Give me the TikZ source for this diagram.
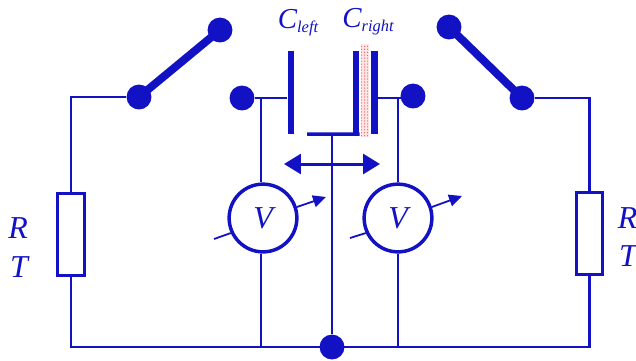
\documentclass[tikz,border=0pt]{standalone}
\usepackage{fontspec}
\setmainfont{Liberation Serif}
\usetikzlibrary{arrows.meta,patterns}
\definecolor{wireblue}{RGB}{18,18,196}
\tikzset{
  wire/.style={draw=wireblue,line width=2.4pt},
  thickwire/.style={draw=wireblue,line width=8pt},
  terminal/.style={circle,fill=wireblue,minimum size=25pt,inner sep=0pt},
  plate/.style={rectangle,fill=wireblue,minimum width=7pt,minimum height=83pt,inner sep=0pt},
  resistor/.style={rectangle,draw=wireblue,line width=3pt,fill=white,minimum width=27pt,minimum height=83pt,inner sep=0pt},
  meter/.style={circle,draw=wireblue,line width=3.5pt,fill=white,minimum size=68pt,inner sep=0pt},
  letter/.style={text=wireblue,font=\fontsize{32}{32}\selectfont\itshape,inner sep=0pt},
  caplabel/.style={text=wireblue,font=\fontsize{29}{29}\selectfont\itshape,inner sep=0pt}
}
\newcommand{\subtext}[1]{\raisebox{-4pt}{\fontsize{16.5}{16.5}\selectfont #1}}
\begin{document}
\begin{tikzpicture}[x=1bp,y=-1bp]
  \useasboundingbox (0,0) rectangle (636,360);

  %% terminals
  \node at (139,97) [terminal] (swLlow) {};
  \node at (220,30) [terminal] (swLtop) {};
  \node at (522,98) [terminal] (swRlow) {};
  \node at (449,27) [terminal] (swRtop) {};
  \node at (242,98) [terminal] (capLdot) {};
  \node at (413,96) [terminal] (capRdot) {};
  \node at (332,347) [terminal] (gnd) {};

  %% resistors
  \node at (71,234.5) [resistor] (resL) {};
  \node at (589.5,233.5) [resistor] (resR) {};

  %% dielectric
  \node at (365,90.5) [rectangle,minimum width=8pt,minimum height=93pt,inner sep=0pt,
    preaction={fill=red!10},pattern=dots,pattern color=red] (film) {};

  %% plates
  \node at (291,92.5) [plate] (plateL) {};
  \node at (356,92.5) [plate] (plateM) {};
  \node at (374.5,92.5) [plate] (plateR) {};

  %% meters
  \node at (263,218) [meter] (meterL) {};
  \node at (398,218) [meter] (meterR) {};
  \node at (meterL) [letter] {V};
  \node at (meterR) [letter] {V};

  %% free ends
  \coordinate (armEnd) at (307,134);
  \coordinate (armMid) at (332,134);
  \coordinate (slideL) at (284,164);
  \coordinate (slideR) at (380,164);
  \coordinate (tailL) at (214,239);
  \coordinate (tailR) at (350,238);
  \coordinate (tipL) at (326,197);
  \coordinate (tipR) at (462,196);
  \coordinate (tapL) at (261,98);
  \coordinate (tapR) at (398,98);
  \coordinate (baseL) at (resL.south |- gnd);
  \coordinate (baseR) at (resR.south |- gnd);

  %% switches
  \draw[thickwire] (swLlow.center) -- (swLtop.center);
  \draw[thickwire] (swRlow.center) -- (swRtop.center);

  %% outer loop
  \draw[wire] (swLlow) -| (resL.north);
  \draw[wire] (swRlow) -| (resR.north);
  \draw[wire] (resL.south) -- (baseL) -- (baseR) -- (resR.south);

  %% capacitor leads
  \draw[wire] (capLdot) -- (capLdot -| plateL.west);
  \draw[wire] (capRdot |- tapR) -- (tapR -| plateR.east);
  \draw[wire] (tapL) -- (meterL.north -| tapL);
  \draw[wire] (tapR) -- (meterR.north);
  \draw[wire] (meterL.south -| tapL) -- (tapL |- baseL);
  \draw[wire] (meterR.south) -- (meterR.south |- baseL);

  %% moving plate
  \draw[draw=wireblue,line width=3.5pt] (armEnd) -- (plateM.south east);
  \draw[wire] (armMid) -- (gnd);
  \draw[draw=wireblue,line width=3pt,{Triangle[length=17pt,width=20pt]}-{Triangle[length=17pt,width=20pt]}] (slideL) -- (slideR);

  %% meter needles
  \draw[draw=wireblue,line width=1.8pt] (tailL) -- (meterL.205);
  \draw[draw=wireblue,line width=1.8pt] (tailR) -- (meterR.205);
  \draw[draw=wireblue,line width=1.8pt,-{Triangle[length=13pt,width=12pt]}] (meterL.18) -- (tipL);
  \draw[draw=wireblue,line width=1.8pt,-{Triangle[length=13pt,width=12pt]}] (meterR.18) -- (tipR);

  %% labels
  \node at (18,228) [letter] (labRL) {R};
  \node at (19,267) [letter] (labTL) {T};
  \node at (627.5,218) [letter] (labRR) {R};
  \node at (628,256) [letter] (labTR) {T};
  \node at (298,23) [caplabel] (labCL) {C\subtext{left}};
  \node at (368,22) [caplabel] (labCR) {C\subtext{right}};
\end{tikzpicture}
\end{document}
